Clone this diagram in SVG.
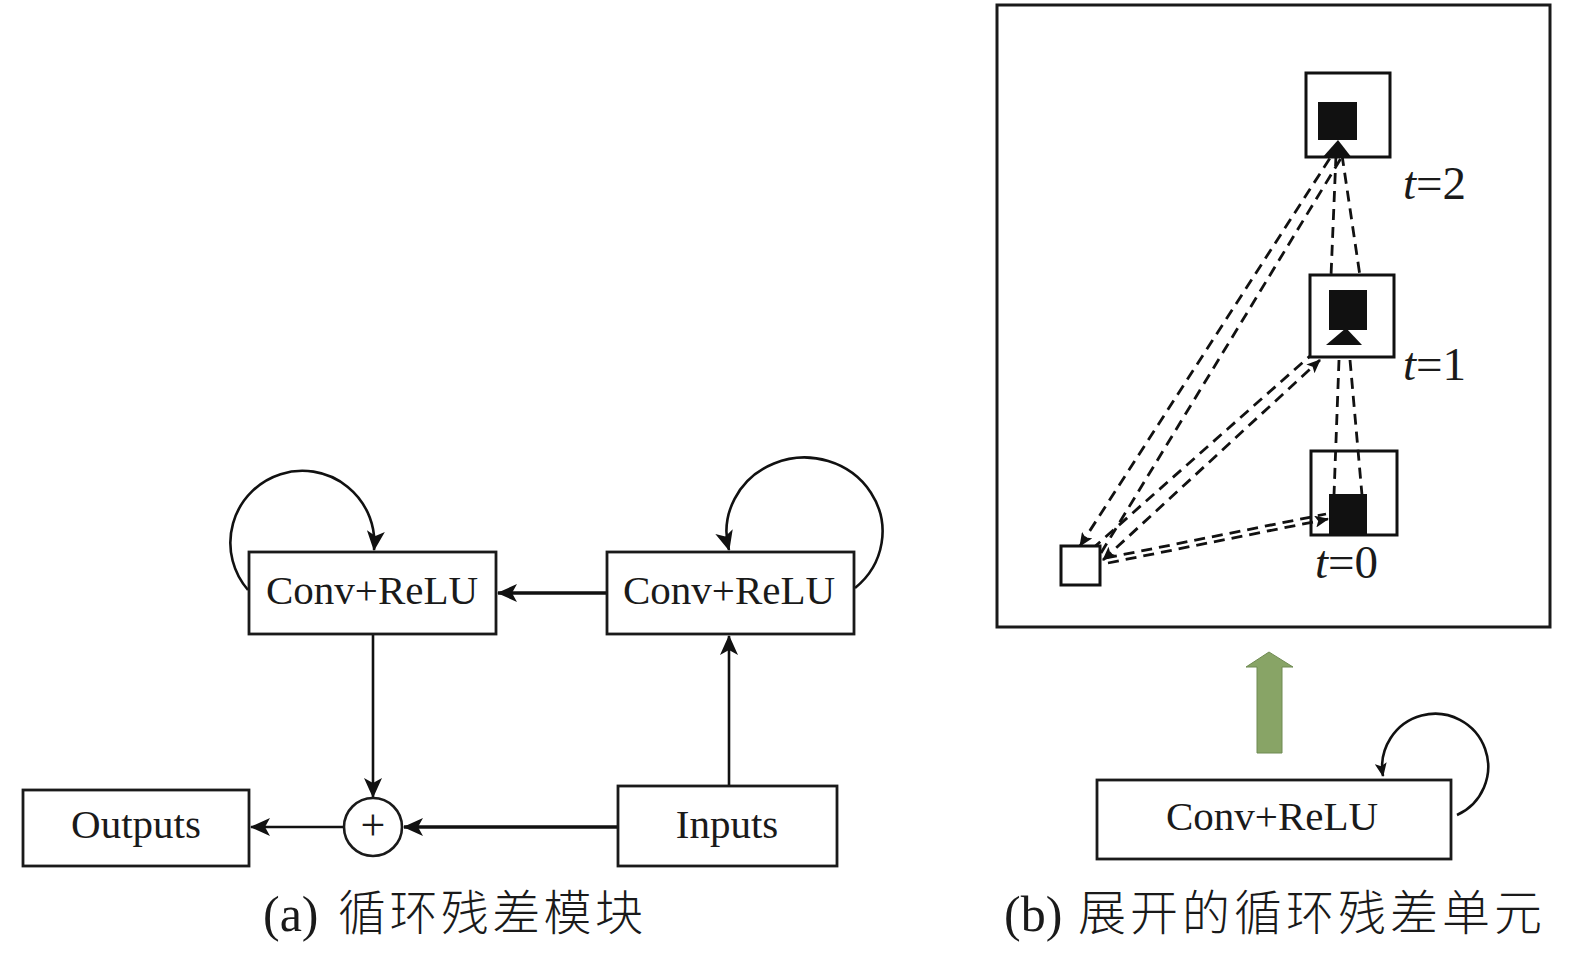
<svg xmlns="http://www.w3.org/2000/svg" width="1575" height="956" viewBox="0 0 1575 956">
<defs>
<style>
.box{fill:#fff;stroke:#1a1a1a;stroke-width:2.8}
.lbl{font-family:"Liberation Serif","Times New Roman",serif;font-size:41px;fill:#1a1a1a;text-anchor:middle}
.tl{font-family:"Liberation Serif","Times New Roman",serif;font-size:47px;fill:#1a1a1a}
.cap{font-family:"Liberation Serif","Noto Sans CJK SC",serif;font-size:50px;fill:#1a1a1a}
.cjk{font-family:"Noto Sans CJK SC",sans-serif;font-weight:300;font-size:48px}
.ln{fill:none;stroke:#111;stroke-width:2.6}
.thick{stroke-width:3.6}
.dash{fill:none;stroke:#111;stroke-width:2.8;stroke-dasharray:11 7}
</style>
<marker id="ah" markerUnits="userSpaceOnUse" viewBox="0 0 20 18" refX="19" refY="9" markerWidth="20" markerHeight="18" orient="auto-start-reverse">
<path d="M0,0 L20,9 L0,18 L5,9 z" fill="#111"/>
</marker>
<marker id="sh" markerUnits="userSpaceOnUse" viewBox="0 0 14 12" refX="13" refY="6" markerWidth="14" markerHeight="12" orient="auto-start-reverse">
<path d="M0,0 L14,6 L0,12 L3,6 z" fill="#111"/>
</marker>
</defs>
<rect width="1575" height="956" fill="#fff"/>

<g id="connectors">
<!-- panel a -->
<path class="ln" d="M248 590 A72 72 0 1 1 374 550" marker-end="url(#ah)"/>
<path class="ln" d="M855 588 A78 74 0 1 0 729 550" marker-end="url(#ah)"/>
<path class="ln thick" d="M607 593 L498 593" marker-end="url(#ah)"/>
<path class="ln" d="M373 634 L373 797" marker-end="url(#ah)"/>
<path class="ln" d="M729 786 L729 636" marker-end="url(#ah)"/>
<path class="ln thick" d="M618 827 L404 827" marker-end="url(#ah)"/>
<path class="ln" d="M344 827 L251 827" marker-end="url(#ah)"/>
<!-- panel b -->
<path class="dash" d="M1080 546 L1332 155" marker-start="url(#sh)"/>
<path class="dash" d="M1101 553 L1343 155"/>
<path class="dash" d="M1092 549 L1310 356"/>
<path class="dash" d="M1103 560 L1320 360" marker-start="url(#sh)" marker-end="url(#sh)"/>
<path class="dash" d="M1106 558 L1326 514"/>
<path class="dash" d="M1108 563 L1328 519" marker-end="url(#sh)"/>
<path class="dash" d="M1336 155 L1331 276"/>
<path class="dash" d="M1342 155 L1360 276"/>
<path class="dash" d="M1339 360 L1334 495"/>
<path class="dash" d="M1350 360 L1362 495"/>
<path class="ln" d="M1457 815 A53 53 0 1 0 1383 776" stroke-width="2.2" marker-end="url(#sh)"/>
</g>

<g id="node-conv-left">
<rect class="box" x="249" y="552" width="247" height="82"/>
<text class="lbl" x="372" y="604">Conv+ReLU</text>
</g>
<g id="node-conv-right">
<rect class="box" x="607" y="552" width="247" height="82"/>
<text class="lbl" x="729" y="604">Conv+ReLU</text>
</g>
<g id="node-outputs">
<rect class="box" x="23" y="790" width="226" height="76"/>
<text class="lbl" x="136" y="838">Outputs</text>
</g>
<g id="node-sum">
<circle cx="373" cy="827" r="29" fill="#fff" stroke="#1a1a1a" stroke-width="2.6"/>
<text class="lbl" x="373" y="840" style="font-size:44px">+</text>
</g>
<g id="node-inputs">
<rect class="box" x="618" y="786" width="219" height="80"/>
<text class="lbl" x="727" y="838">Inputs</text>
</g>
<text id="caption-a" class="cap" x="263" y="931">(a) <tspan class="cjk" x="338" y="930" textLength="305" lengthAdjust="spacing">循环残差模块</tspan></text>

<g id="frame-b">
<rect x="997" y="5" width="553" height="622" fill="none" stroke="#1a1a1a" stroke-width="3"/>
</g>
<g id="node-t2">
<rect x="1306" y="73" width="84" height="84" fill="none" stroke="#111" stroke-width="3"/>
<rect x="1318" y="102" width="39" height="38" fill="#111"/>
<polygon points="1322,158 1352,158 1338,140" fill="#111"/>
<text class="tl" x="1403" y="199"><tspan font-style="italic">t</tspan>=2</text>
</g>
<g id="node-t1">
<rect x="1310" y="275" width="84" height="82" fill="none" stroke="#111" stroke-width="3"/>
<rect x="1329" y="290" width="38" height="40" fill="#111"/>
<polygon points="1326,345 1362,345 1346,328" fill="#111"/>
<text class="tl" x="1403" y="380"><tspan font-style="italic">t</tspan>=1</text>
</g>
<g id="node-t0">
<rect x="1311" y="451" width="86" height="84" fill="none" stroke="#111" stroke-width="3"/>
<rect x="1329" y="494" width="38" height="41" fill="#111"/>
<text class="tl" x="1315" y="578"><tspan font-style="italic">t</tspan>=0</text>
</g>
<g id="node-input-b">
<rect x="1061" y="546" width="39" height="39" fill="#fff" stroke="#111" stroke-width="3"/>
</g>
<g id="unfold-arrow">
<polygon points="1257,753 1282,753 1282,667 1293,667 1269,652 1246,667 1257,667" fill="#88a466" stroke="#6f8a52" stroke-width="1"/>
</g>
<g id="node-conv-b">
<rect class="box" x="1097" y="780" width="354" height="79"/>
<text class="lbl" x="1272" y="830">Conv+ReLU</text>
</g>
<text id="caption-b" class="cap" x="1004" y="931">(b) <tspan class="cjk" x="1078" y="930" textLength="464" lengthAdjust="spacing">展开的循环残差单元</tspan></text>
</svg>
